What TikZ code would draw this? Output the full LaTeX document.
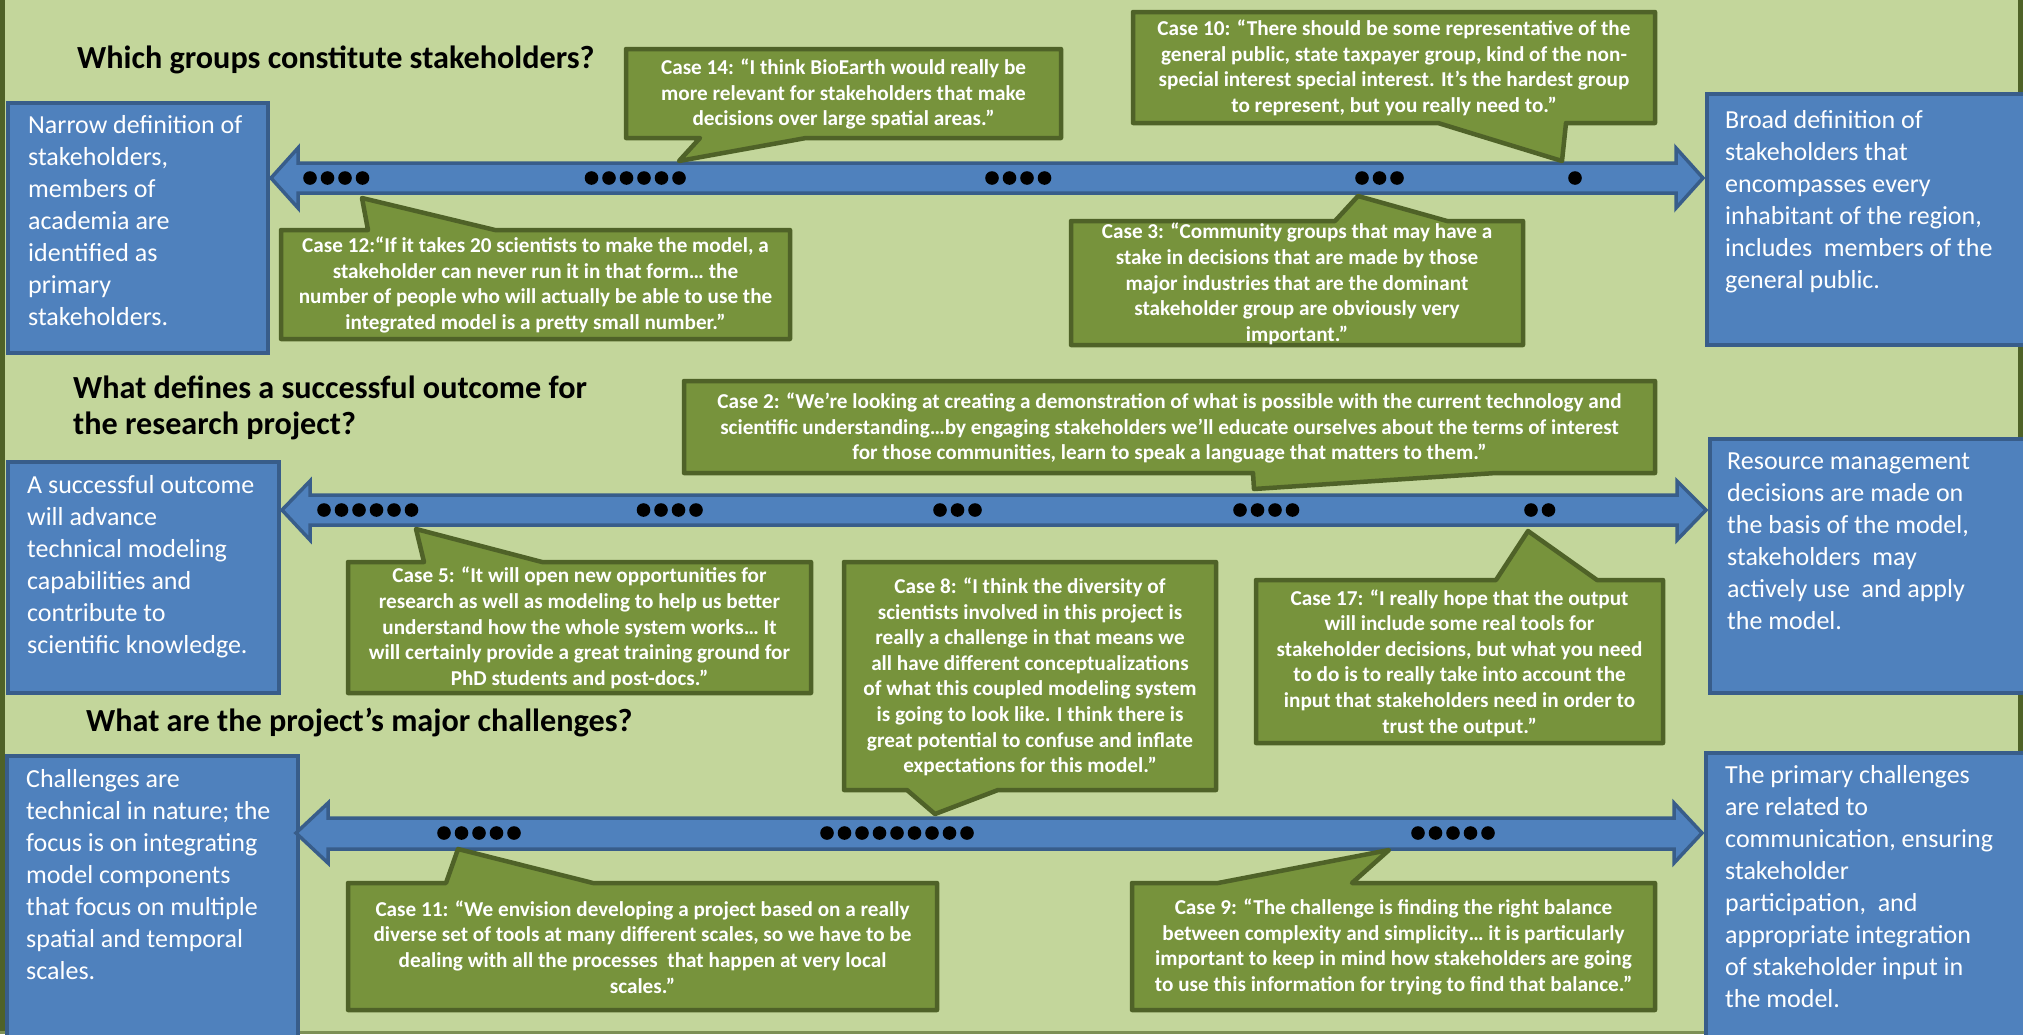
\documentclass[tikz,border=0pt]{standalone}
\usepackage{fontspec}
\setmainfont{Carlito}
\definecolor{bgc}{HTML}{C3D69B}
\definecolor{framec}{HTML}{4F6228}
\definecolor{cfill}{HTML}{77933C}
\definecolor{cline}{HTML}{4F6228}
\definecolor{bfill}{HTML}{4F81BD}
\definecolor{bline}{HTML}{385D8A}
\tikzset{
  callbox/.style={fill=cfill, draw=cline, line width=4.5pt, line join=round},
  calltext/.style={text=white, font=\bfseries\fontsize{21.2}{25.6}\selectfont, align=center, inner sep=0pt},
  bluebox/.style={fill=bfill, draw=bline, line width=4.5pt},
  bluetext/.style={text=white, font=\fontsize{26}{32}\selectfont, align=left, inner sep=0pt, anchor=north west},
  titletext/.style={font=\bfseries\fontsize{32.2}{36.5}\selectfont, align=left, inner sep=0pt, anchor=west},
  arrowshape/.style={fill=bfill, draw=bline, line width=3.5pt, line join=miter},
}
\newcommand\dotrow[3]{\foreach \i in {1,...,#3}{\fill ({#1+(\i-1)*17.5},#2) circle[radius=6.8];}}
\begin{document}
\begin{tikzpicture}[x=1pt,y=-1pt]
\useasboundingbox (0,0) rectangle (2023,1034);
% background and frame
\fill[bgc] (0,0) rectangle (2023,1034);
\draw[framec, line width=5pt] (2.5,0) -- (2.5,1034);
\draw[framec, line width=5pt] (2020.5,0) -- (2020.5,1034);
\draw[framec!60!bgc, line width=3pt] (0,1032.5) -- (2023,1032.5);

% ---------- titles
\node[titletext] (t1) at (77,60) {Which groups constitute stakeholders?};
\node[titletext] (t2) at (73,408) {What defines a successful outcome for\\the research project?};
\node[titletext] (t3) at (86,723) {What are the project’s major challenges?};

% ---------- blue boxes
\draw[bluebox] (8,103) rectangle (268,353);
\draw[bluebox] (1707,94) rectangle (2030,345);
\draw[bluebox] (8,462) rectangle (279,693);
\draw[bluebox] (1710,439) rectangle (2030,693);
\draw[bluebox] (7,756) rectangle (298,1040);
\draw[bluebox] (1706,753) rectangle (2030,1040);

\node[bluetext] (b1l) at (28,115) {Narrow definition of\\stakeholders,\\members of\\academia are\\identified as\\primary\\stakeholders.};
\node[bluetext] (b1r) at (1725,110) {Broad definition of\\stakeholders that\\encompasses every\\inhabitant of the region,\\includes\ \ members of the\\general public.};
\node[bluetext] (b2l) at (27,475) {A successful outcome\\will advance\\technical modeling\\capabilities and\\contribute to\\scientific knowledge.};
\node[bluetext] (b2r) at (1727,453) {Resource management\\decisions are made on\\the basis of the model,\\stakeholders\ \ may\\actively use\ \ and apply\\the model.};
\node[bluetext] (b3l) at (26,769) {Challenges are\\technical in nature; the\\focus is on integrating\\model components\\that focus on multiple\\spatial and temporal\\scales.};
\node[bluetext] (b3r) at (1725,765) {The primary challenges\\are related to\\communication, ensuring\\stakeholder\\participation,\ \ and\\appropriate integration\\of stakeholder input in\\the model.};

% ---------- arrows
\draw[arrowshape] (271,178) -- (298,148) -- (298,163) -- (1676,163) -- (1676,148) -- (1703,178) -- (1676,208) -- (1676,193) -- (298,193) -- (298,208) -- cycle;
\draw[arrowshape] (282,510) -- (310,481) -- (310,495) -- (1677,495) -- (1677,481) -- (1706,510) -- (1677,540) -- (1677,525) -- (310,525) -- (310,540) -- cycle;
\draw[arrowshape] (296,833) -- (328,803) -- (328,818) -- (1674,818) -- (1674,803) -- (1702,833) -- (1674,863) -- (1674,849) -- (328,849) -- (328,863) -- cycle;

% ---------- dots
\dotrow{310}{178}{4}
\dotrow{591.5}{178}{6}
\dotrow{992}{178}{4}
\dotrow{1362}{178}{3}
\dotrow{1575}{178}{1}
\dotrow{324}{510}{6}
\dotrow{643.5}{510}{4}
\dotrow{940}{510}{3}
\dotrow{1240}{510}{4}
\dotrow{1531}{510}{2}
\dotrow{444}{833}{5}
\dotrow{827}{833}{9}
\dotrow{1418}{833}{5}

% ---------- callouts
% Case 14 (pointer down)
\draw[callbox] (626,49) -- (1061,49) -- (1061,138) -- (806,138) -- (679,161) -- (700,138) -- (626,138) -- cycle;
\node[calltext] (c14) at (843.5,94) {Case 14: “I think BioEarth would really be\\more relevant for stakeholders that make\\decisions over large spatial areas.”};
% Case 10 (pointer down)
\draw[callbox] (1133,12) -- (1655,12) -- (1655,123) -- (1566,123) -- (1562,161) -- (1438,123) -- (1133,123) -- cycle;
\node[calltext] (c10) at (1394,68) {Case 10: “There should be some representative of the\\general public, state taxpayer group, kind of the non-\\special interest special interest. It’s the hardest group\\to represent, but you really need to.”};
% Case 12 (pointer up)
\draw[callbox] (281,230) -- (368,230) -- (362,198) -- (495,230) -- (790,230) -- (790,339) -- (281,339) -- cycle;
\node[calltext] (c12) at (535.5,285) {Case 12:“If it takes 20 scientists to make the model, a\\stakeholder can never run it in that form… the\\number of people who will actually be able to use the\\integrated model is a pretty small number.”};
% Case 3 (pointer up)
\draw[callbox] (1071,221) -- (1335,221) -- (1358,196) -- (1447,221) -- (1523,221) -- (1523,345) -- (1071,345) -- cycle;
\node[calltext] (c3) at (1297,284) {Case 3: “Community groups that may have a\\stake in decisions that are made by those\\major industries that are the dominant\\stakeholder group are obviously very\\important.”};
% Case 2 (pointer down)
\draw[callbox] (684,381) -- (1655,381) -- (1655,473) -- (1496,473) -- (1254,489) -- (1253,473) -- (684,473) -- cycle;
\node[calltext] (c2) at (1169.5,428) {Case 2: “We’re looking at creating a demonstration of what is possible with the current technology and\\scientific understanding…by engaging stakeholders we’ll educate ourselves about the terms of interest\\for those communities, learn to speak a language that matters to them.”};
% Case 5 (pointer up)
\draw[callbox] (348,562) -- (424,562) -- (416,529) -- (542,562) -- (811,562) -- (811,693) -- (348,693) -- cycle;
\node[calltext] (c5) at (579.5,628) {Case 5: “It will open new opportunities for\\research as well as modeling to help us better\\understand how the whole system works… It\\will certainly provide a great training ground for\\PhD students and post-docs.”};
% Case 8 (pointer down)
\draw[callbox] (844,562) -- (1216,562) -- (1216,790) -- (998,790) -- (935,814) -- (907,790) -- (844,790) -- cycle;
\node[calltext] (c8) at (1030,677) {Case 8: “I think the diversity of\\scientists involved in this project is\\really a challenge in that means we\\all have different conceptualizations\\of what this coupled modeling system\\is going to look like. I think there is\\great potential to confuse and inflate\\expectations for this model.”};
% Case 17 (pointer up)
\draw[callbox] (1256,580) -- (1496,580) -- (1528,531) -- (1597,580) -- (1663,580) -- (1663,743) -- (1256,743) -- cycle;
\node[calltext] (c17) at (1459.5,663) {Case 17: “I really hope that the output\\will include some real tools for\\stakeholder decisions, but what you need\\to do is to really take into account the\\input that stakeholders need in order to\\trust the output.”};
% Case 11 (pointer up)
\draw[callbox] (348,883) -- (446,883) -- (458,849) -- (593,883) -- (937,883) -- (937,1010) -- (348,1010) -- cycle;
\node[calltext] (c11) at (642.5,947) {Case 11: “We envision developing a project based on a really\\diverse set of tools at many different scales, so we have to be\\dealing with all the processes\ \ that happen at very local\\scales.”};
% Case 9 (pointer up)
\draw[callbox] (1132,883) -- (1218,883) -- (1389,850) -- (1352,883) -- (1655,883) -- (1655,1010) -- (1132,1010) -- cycle;
\node[calltext] (c9) at (1393.5,947) {Case 9: “The challenge is finding the right balance\\between complexity and simplicity… it is particularly\\important to keep in mind how stakeholders are going\\to use this information for trying to find that balance.”};
\end{tikzpicture}
\end{document}
